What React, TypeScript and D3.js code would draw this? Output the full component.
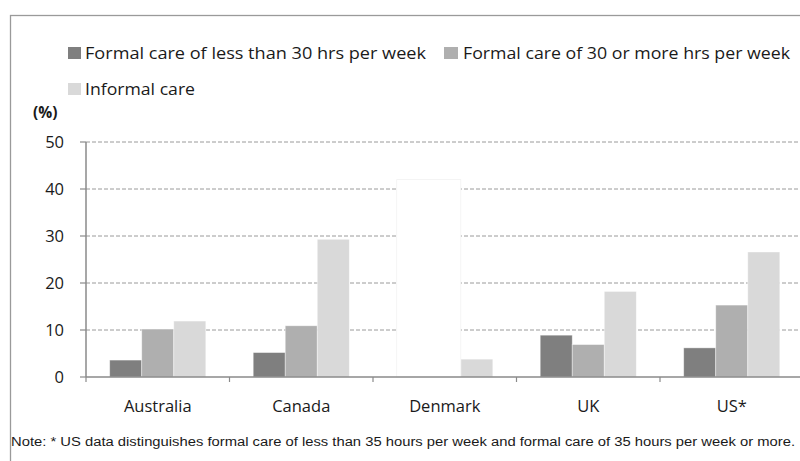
import React from "react";
import * as d3 from "d3";

const categories = ["Australia", "Canada", "Denmark", "UK", "US*"];
const seriesNames = [
  "Formal care of less than 30 hrs per week",
  "Formal care of 30 or more hrs per week",
  "Informal care",
];
const formalLess30: (number | null)[] = [3.6, 5.2, null, 8.9, 6.2];
const formal30More: (number | null)[] = [10.2, 10.9, null, 6.9, 15.3];
const informal: (number | null)[] = [11.9, 29.3, 3.8, 18.2, 26.6];
// Denmark: formal care not split by hours
const formalAnyHours: (number | null)[] = [null, null, 42, null, null];
const yTicks = [0, 10, 20, 30, 40, 50];
const note =
  "Note: * US data distinguishes formal care of less than 35 hours per week and formal care of 35 hours per week or more.";

const colors = ["#7f7f7f", "#afafaf", "#d9d9d9"];
const font = "'Open Sans', sans-serif";

export default function App() {
  const W = 800, H = 461;
  const x0 = 86, x1 = 803.5, yTop = 142, yBot = 377;
  const x = d3.scaleBand<string>().domain(categories).range([x0, x1]).paddingInner(0).paddingOuter(0);
  const y = d3.scaleLinear().domain([0, 50]).range([yBot, yTop]);
  const inner = d3.scaleBand<number>().domain([0, 1, 2]).range([0, x.bandwidth()]).paddingInner(0).paddingOuter(0.74);
  const series = [formalLess30, formal30More, informal];

  return (
    <svg width={W} height={H} style={{ position: "absolute", left: 0, top: 0, background: "#fff" }}>
      <rect x={10.5} y={15.5} width={800} height={460} fill="#fff" stroke="#9a9a9a" strokeWidth={1.3} />
      {/* legend */}
      <g fontFamily={font} fontSize={16} fill="#1a1a1a">
        <rect x={68} y={47} width={13} height={12} fill={colors[0]} />
        <text x={85} y={59} textLength={341} lengthAdjust="spacingAndGlyphs">{seriesNames[0]}</text>
        <rect x={444} y={47} width={14} height={12} fill={colors[1]} />
        <text x={463} y={59} textLength={327} lengthAdjust="spacingAndGlyphs">{seriesNames[1]}</text>
        <rect x={68} y={83} width={13} height={12} fill={colors[2]} />
        <text x={85} y={95} textLength={110} lengthAdjust="spacingAndGlyphs">{seriesNames[2]}</text>
        <text x={33} y={118} fontWeight="bold" fontSize={15.5}>(%)</text>
      </g>
      {/* gridlines */}
      {yTicks.filter((t) => t > 0).map((t) => (
        <line key={t} x1={x0} x2={x1} y1={y(t)} y2={y(t)} stroke="#9a9a9a" strokeWidth={1} strokeDasharray="4,2" />
      ))}
      {/* bars */}
      {series.map((s, si) =>
        s.map((v, ci) =>
          v == null ? null : (
            <rect
              key={si + "-" + ci}
              x={(x(categories[ci]) as number) + (inner(si) as number)}
              y={y(v)}
              width={inner.bandwidth()}
              height={y(0) - y(v)}
              fill={colors[si]}
              stroke="#ffffff"
              strokeOpacity={0.5}
              strokeWidth={0.8}
            />
          )
        )
      )}
      {formalAnyHours.map((v, ci) =>
        v == null ? null : (
          <rect
            key={"any-" + ci}
            x={(x(categories[ci]) as number) + (inner(0) as number)}
            y={y(v)}
            width={inner.bandwidth() * 2}
            height={y(0) - y(v)}
            fill="#ffffff"
            stroke="#f2f2f2"
            strokeWidth={0.8}
          />
        )
      )}
      {/* axes */}
      <line x1={x0} x2={x0} y1={yTop} y2={yBot} stroke="#8a8a8a" strokeWidth={1.5} />
      <line x1={x0} x2={x1} y1={yBot} y2={yBot} stroke="#8a8a8a" strokeWidth={1.5} />
      {yTicks.map((t) => (
        <g key={t}>
          <line x1={x0 - 6} x2={x0} y1={y(t)} y2={y(t)} stroke="#8a8a8a" strokeWidth={1.2} />
          <text x={64} y={y(t) + 6} textAnchor="end" fontFamily={font} fontSize={16.5} fill="#1a1a1a">{t}</text>
        </g>
      ))}
      {categories.map((c) => (
        <g key={c}>
          <line x1={x(c) as number} x2={x(c) as number} y1={yBot} y2={yBot + 5} stroke="#8a8a8a" strokeWidth={1.2} />
          <text x={(x(c) as number) + x.bandwidth() / 2} y={412} textAnchor="middle" fontFamily={font} fontSize={16.5} fill="#1a1a1a">{c}</text>
        </g>
      ))}
      <text x={11} y={446} fontFamily="'Liberation Sans Narrow', 'Liberation Sans', Arial, sans-serif" fontSize={12.5} fill="#1a1a1a" textLength={784} lengthAdjust="spacingAndGlyphs">{note}</text>
    </svg>
  );
}
